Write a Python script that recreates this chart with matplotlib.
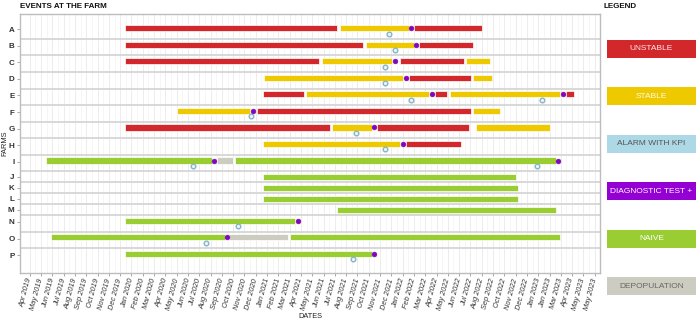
import matplotlib
matplotlib.use("Agg")
import matplotlib.pyplot as plt
import matplotlib.dates as mdates
import numpy as np
import pandas as pd
from matplotlib.patches import Rectangle

plt.rcParams["font.family"] = ["Liberation Sans", "DejaVu Sans"]

# --- data -------------------------------------------------------------
farms = list("ABCDEFGHIJKLMNOP")

# status periods per farm: U = unstable, S = stable, N = naive, D = depopulation
seg_farm = ["A", "A", "A",
            "B", "B", "B",
            "C", "C", "C", "C",
            "D", "D", "D",
            "E", "E", "E", "E", "E",
            "F", "F", "F",
            "G", "G", "G", "G",
            "H", "H",
            "I", "I", "I",
            "J", "K", "L", "M", "N",
            "O", "O", "O",
            "P"]
seg_state = ["U", "S", "U",
             "U", "S", "U",
             "U", "S", "U", "S",
             "S", "U", "S",
             "U", "S", "U", "S", "U",
             "S", "U", "S",
             "U", "S", "U", "S",
             "S", "U",
             "N", "D", "N",
             "N", "N", "N", "N", "N",
             "N", "D", "N",
             "N"]
seg_start = ["2020-01-01", "2021-07-24", "2022-02-04",
             "2020-01-01", "2021-10-01", "2022-02-18",
             "2020-01-01", "2021-06-05", "2021-12-29", "2022-06-24",
             "2021-01-04", "2022-01-22", "2022-07-13",
             "2021-01-01", "2021-04-25", "2022-04-01", "2022-05-12", "2023-03-15",
             "2020-05-18", "2020-12-14", "2022-07-13",
             "2020-01-01", "2021-07-03", "2021-10-30", "2022-07-21",
             "2021-01-01", "2022-01-15",
             "2019-06-05", "2020-09-01", "2020-10-19",
             "2021-01-01", "2021-01-01", "2021-01-01", "2021-07-17", "2020-01-01",
             "2019-06-18", "2020-10-03", "2021-03-14",
             "2020-01-01"]
seg_end = ["2021-07-17", "2022-01-22", "2022-08-04",
           "2021-09-24", "2022-02-04", "2022-07-13",
           "2021-05-29", "2021-12-10", "2022-06-17", "2022-08-25",
           "2022-01-08", "2022-07-07", "2022-09-01",
           "2021-04-18", "2022-03-18", "2022-05-05", "2023-03-01", "2023-04-05",
           "2020-11-28", "2022-07-07", "2022-09-21",
           "2021-06-26", "2021-10-16", "2022-07-01", "2023-02-01",
           "2021-12-31", "2022-06-10",
           "2020-08-17", "2020-10-12", "2023-02-16",
           "2022-11-03", "2022-11-09", "2022-11-09", "2023-02-16", "2021-03-27",
           "2020-09-21", "2021-03-07", "2023-03-01",
           "2021-10-16"]

# positive diagnostic tests
diag_farm = ["A", "B", "C", "D", "E", "E", "F", "G", "H", "I", "I", "N", "O", "P"]
diag_date = ["2022-01-29", "2022-02-10", "2021-12-17", "2022-01-14", "2022-03-25",
             "2023-03-08", "2020-12-05", "2021-10-22", "2022-01-08", "2020-08-23",
             "2023-02-23", "2021-04-03", "2020-09-27", "2021-10-23"]

# KPI alarms
alarm_farm = ["A", "B", "C", "D", "E", "E", "F", "G", "H", "I", "I", "N", "O", "P"]
alarm_date = ["2021-12-02", "2021-12-16", "2021-11-19", "2021-11-19", "2022-01-28",
              "2023-01-11", "2020-11-29", "2021-09-04", "2021-11-20", "2020-06-28",
              "2022-12-29", "2020-10-25", "2020-08-03", "2021-08-28"]

legend_labels = ["UNSTABLE", "STABLE", "ALARM WITH KPI", "DIAGNOSTIC TEST +",
                 "NAIVE", "DEPOPULATION"]

# x breaks every 30 days
break_start = "2019-04-22"
break_count = 51

# --- styling ----------------------------------------------------------
state_color = {"U": "#D2282B", "S": "#EEC900", "N": "#9ACD32", "D": "#CDCCC1"}
alarm_color = "#ADD8E6"
diag_color = "#9400D3"
legend_colors = [state_color["U"], state_color["S"], alarm_color, diag_color,
                 state_color["N"], state_color["D"]]
legend_text_colors = ["#fbeaea", "#fffbe6", "#555555", "#ffffff", "#ffffff", "#666666"]

fig = plt.figure(figsize=(7, 3.24), dpi=100)
W, H = 700, 324
ax = fig.add_axes([20 / W, 1 - 273 / H, 580 / W, 259 / H])

# row layout: farms with alarms get a taller row
rows = {}
y = 0.5
for f in farms:
    h = 1.0 if f in alarm_farm else 0.66
    rows[f] = (y, h)
    y += h
y_total = y + 0.5


def bar_y(f):
    t, h = rows[f]
    return t + (0.35 * h if h == 1.0 else 0.5 * h)


def alarm_y(f):
    t, h = rows[f]
    return t + 0.68 * h


def label_y(f):
    t, h = rows[f]
    return t + (0.42 * h if h == 1.0 else 0.5 * h)


starts = mdates.date2num(pd.to_datetime(seg_start))
ends = mdates.date2num(pd.to_datetime(seg_end))
ax.barh([bar_y(f) for f in seg_farm], ends - starts, left=starts, height=0.37,
        color=[state_color[s] for s in seg_state], edgecolor="white",
        linewidth=0.5, zorder=3)

ax.scatter(mdates.date2num(pd.to_datetime(alarm_date)), [alarm_y(f) for f in alarm_farm],
           s=11, facecolor="#eef6f9", edgecolor="#86b4c8", linewidth=1.0, zorder=5)
ax.scatter(mdates.date2num(pd.to_datetime(diag_date)), [bar_y(f) for f in diag_farm],
           s=12, facecolor="#8A00C8", edgecolor="#6a1a9a", linewidth=0.4, zorder=6)

# separators between farms
for f in farms[1:]:
    ax.axhline(rows[f][0], color="#d8d8d8", linewidth=1.4, zorder=2)

# x axis
breaks = pd.date_range(break_start, periods=break_count, freq="30D")
bnum = mdates.date2num(breaks)
ax.set_xticks(bnum)
ax.set_xticklabels([d.strftime("%b %Y") for d in breaks], rotation=75, ha="right",
                   rotation_mode="anchor", va="center", fontsize=5.3, style="italic",
                   color="#333333")
ax.set_xticks((bnum[:-1] + bnum[1:]) / 2, minor=True)
lo, hi = starts.min(), ends.max()
pad = 0.05 * (hi - lo)
ax.set_xlim(lo - pad, hi + pad)
ax.grid(True, axis="x", which="major", color="#e9e9e9", linewidth=0.6, zorder=0)
ax.grid(True, axis="x", which="minor", color="#f3f3f3", linewidth=0.5, zorder=0)
ax.tick_params(axis="x", which="major", length=2.5, width=0.6, color="#999999", pad=1.5)
ax.tick_params(axis="x", which="minor", length=0)

# y axis
ax.set_ylim(y_total, 0)
ax.set_yticks([label_y(f) for f in farms])
ax.set_yticklabels(farms, fontsize=5.8, fontweight="bold", color="#333333")
ax.tick_params(axis="y", length=2.5, width=0.6, color="#999999", pad=1.5)
ax.set_axisbelow(True)

for sp in ax.spines.values():
    sp.set_color("#bdbdbd")
    sp.set_linewidth(1.0)

ax.set_xlabel("DATES", fontsize=5.3, color="#222222")
ax.xaxis.set_label_coords(0.5, -(317 - 273) / 259)
ax.xaxis.label.set_va("center")
ax.set_ylabel("FARMS", fontsize=5.3, color="#222222")
ax.yaxis.set_label_coords(-15 / 580, 0.5)
ax.yaxis.label.set_va("center")

fig.text(20 / W, 1 - 6 / H, "EVENTS AT THE FARM", fontsize=5.8, fontweight="bold",
         va="center", ha="left", color="#111111")
fig.text(603 / W, 1 - 6 / H, "LEGEND", fontsize=5.8, fontweight="bold",
         va="center", ha="left", color="#111111")

# legend boxes down the right side
for i, (lab, col, tcol) in enumerate(zip(legend_labels, legend_colors, legend_text_colors)):
    cy = 48.8 + i * 47.5
    fig.patches.append(Rectangle((607 / W, 1 - (cy + 9) / H), 89 / W, 18 / H,
                                 transform=fig.transFigure, facecolor=col,
                                 edgecolor="none"))
    fig.text(651.5 / W, 1 - cy / H, lab, fontsize=6, color=tcol,
             ha="center", va="center")

fig.savefig("out.png", dpi=100)
